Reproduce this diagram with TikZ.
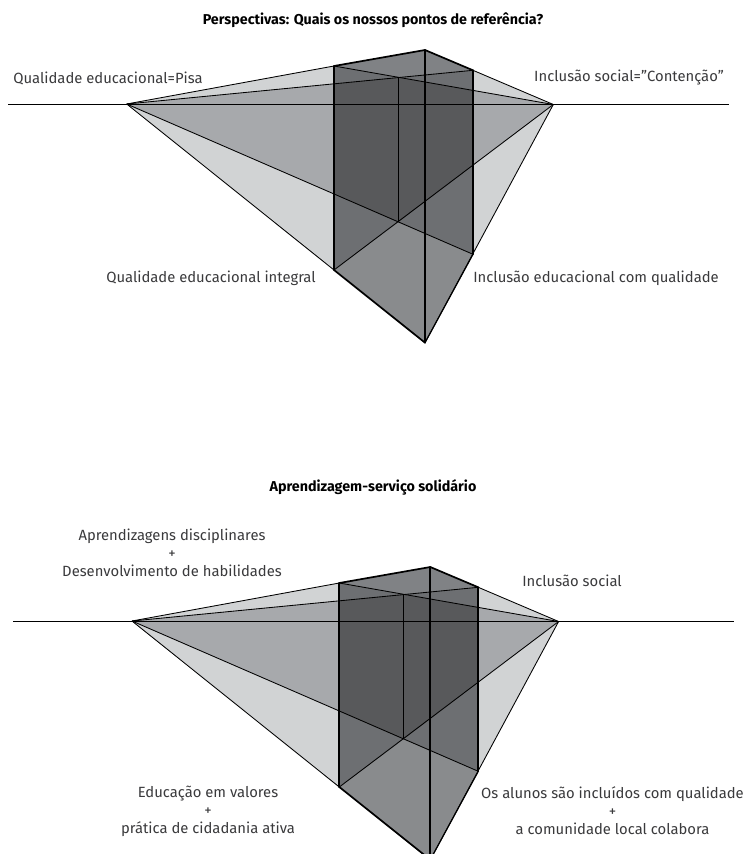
\documentclass[tikz,border=0pt]{standalone}
\usepackage{fontspec}
\setmainfont{Fira Sans}
\usetikzlibrary{calc}
\definecolor{lightg}{HTML}{D1D3D4}
\definecolor{midg}{HTML}{A7A9AC}
\definecolor{colg}{HTML}{6D6F72}
\definecolor{darkg}{HTML}{58595B}
\definecolor{topg}{HTML}{808285}
\definecolor{botg}{HTML}{898B8D}
\definecolor{txt}{HTML}{3A3A3C}
\tikzset{
 lab/.style={text=txt,font=\fontsize{14.8}{18}\selectfont,inner sep=0pt,align=center},
 ttl/.style={text=black,font=\fontsize{14.3}{17}\selectfont\bfseries,inner sep=0pt},
 thin line/.style={draw=black,line width=0.85pt},
 thick line/.style={draw=black,line width=1.7pt,line cap=round},
 hor/.style={draw=black,line width=0.8pt}
}
\newcommand{\perspfig}[1]{%
 \begin{scope}[shift={#1}]
 \coordinate (L) at (126.7,104);
 \coordinate (R) at (553.3,104.5);
 \coordinate (A) at (425,50);
 \coordinate (B) at (425,342.7);
 \coordinate (P1) at (334,66);
 \coordinate (P2) at (334,270);
 \coordinate (P3) at (473,70.3);
 \coordinate (P4) at (473,254.3);
 \coordinate (I1) at (398.3,77.7);
 \coordinate (I2) at (398.3,222.3);
 \coordinate (HL) at (8,104);
 \coordinate (HR) at (729,104);
 % crossing points on the column edges
 \coordinate (D1) at ($(L)!0.5986!(P3)$);
 \coordinate (D2) at ($(L)!0.5986!(P4)$);
 \coordinate (D3) at ($(R)!0.3662!(P1)$);
 \coordinate (D4) at ($(R)!0.3662!(P2)$);
 \fill[lightg] (L)--(P1)--(P2)--cycle;
 \fill[lightg] (R)--(P3)--(P4)--cycle;
 \fill[midg] (L)--(P3)--(P4)--cycle;
 \fill[midg] (R)--(P1)--(P2)--cycle;
 \fill[colg] (P1)--(A)--(P3)--(P4)--(B)--(P2)--cycle;
 \fill[topg] (P1)--(A)--(P3)--(I1)--cycle;
 \fill[botg] (P2)--(I2)--(P4)--(B)--cycle;
 \fill[darkg] (D1)--(I1)--(D3)--(D4)--(I2)--(D2)--cycle;
 \draw[hor] (HL)--(HR);
 \draw[thin line] (L)--(P1);
 \draw[thin line] (L)--(P3);
 \draw[thin line] (L)--(P4);
 \draw[thin line] (L)--(P2);
 \draw[thin line] (R)--(P3);
 \draw[thin line] (R)--(P1);
 \draw[thin line] (R)--(P2);
 \draw[thin line] (R)--(B);
 \draw[thin line] (I1)--(I2);
 \draw[thick line] (P1)--(P2);
 \draw[thick line] (P3)--(P4);
 \draw[thick line] (A)--(B);
 \draw[thick line] (P1)--(A)--(P3);
 \draw[thick line] (P2)--(B);
 \draw[draw=black,line width=1.2pt] (P4)--(B);
 \end{scope}}
\begin{document}
\begin{tikzpicture}[x=1pt,y=-1pt]
\path[use as bounding box] (0,0) rectangle (744,854);
\clip (0,0) rectangle (744,854);
\fill[white] (0,0) rectangle (744,854);
\perspfig{(0,0)}
\perspfig{(5.3,517)}
\node[ttl] (t1) at (373,20.5) {Perspectivas: Quais os nossos pontos de referência?};
\node[ttl] (t2) at (373,487) {Aprendizagem-serviço solidário};
\node[lab] (a1) at (108,78) {Qualidade educacional=Pisa};
\node[lab] (a2) at (629,78) {Inclusão social="Contenção"};
\node[lab] (a3) at (211,278) {Qualidade educacional integral};
\node[lab] (a4) at (596,278) {Inclusão educacional com qualidade};
\node[lab] (b1) at (172,552.5) {Aprendizagens disciplinares\\+\\Desenvolvimento de habilidades};
\node[lab] (b2) at (572,580.5) {Inclusão social};
\node[lab] (b3) at (208,811) {Educação em valores\\+\\prática de cidadania ativa};
\node[lab] (b4) at (612.5,811) {Os alunos são incluídos com qualidade\\+\\a comunidade local colabora};
\end{tikzpicture}
\end{document}
